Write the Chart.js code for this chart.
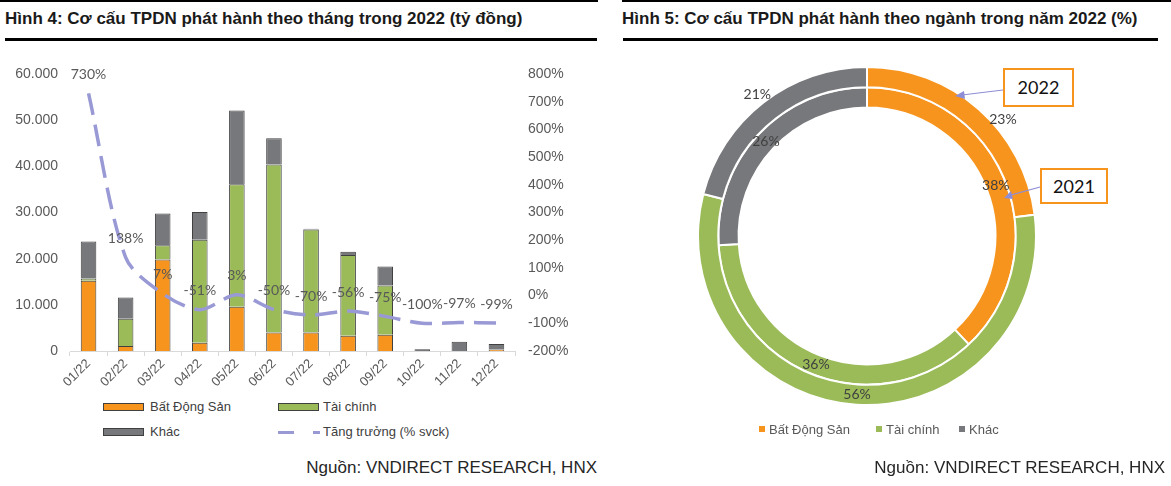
<!DOCTYPE html>
<html>
<head>
<meta charset="utf-8">
<script src="https://cdn.jsdelivr.net/npm/chart.js@4.4.1/dist/chart.umd.min.js"></script>
<style>
  html, body { margin: 0; padding: 0; background: #fff; }
  body { width: 1171px; height: 486px; position: relative; overflow: hidden; font-family: "Liberation Sans", Arial, sans-serif; }
  .rule { position: absolute; background: #000; }
  .title { position: absolute; top: 9px; font-weight: bold; font-size: 17px; color: #1a1a1a; white-space: nowrap; }
  .source { position: absolute; top: 458px; font-size: 17px; color: #262626; white-space: nowrap; }
  .lg { position: absolute; font-size: 13px; color: #404040; white-space: nowrap; line-height: 16px; }
  .sw { position: absolute; width: 39px; height: 6px; border: 1px solid #404040; }
  .dash { position: absolute; height: 3px; background: #9999d6; }
  .lg2 { position: absolute; top: 422px; font-size: 13px; color: #595959; white-space: nowrap; line-height: 16px; }
  .sq { display: inline-block; width: 6px; height: 6px; margin-right: 4px; vertical-align: 2px; }
  .callout { position: absolute; border: 2px solid #f7941d; background: #fff; font-family: Lato, sans-serif; font-size: 18px; color: #111; text-align: center; box-sizing: border-box; }
  canvas { position: absolute; }
</style>
</head>
<body>
<div class="rule" style="left:0;top:0;width:598px;height:2px"></div>
<div class="rule" style="left:622px;top:0;width:549px;height:2px"></div>
<div class="title" style="left:5px">Hình 4: Cơ cấu TPDN phát hành theo tháng trong 2022 (tỷ đồng)</div>
<div class="title" style="left:622px">Hình 5: Cơ cấu TPDN phát hành theo ngành trong năm 2022 (%)</div>
<div class="rule" style="left:5px;top:38px;width:592px;height:3px"></div>
<div class="rule" style="left:623px;top:38px;width:535px;height:3px"></div>

<canvas id="barChart" width="600" height="345" style="left:0;top:50px;width:600px;height:345px"></canvas>

<div class="sw" style="left:103px;top:403px;background:#f7941d"></div>
<div class="lg" style="left:150px;top:399px">Bất Động Sản</div>
<div class="sw" style="left:278px;top:403px;background:#9bbb59"></div>
<div class="lg" style="left:323px;top:399px">Tài chính</div>
<div class="sw" style="left:103px;top:428px;background:#77787b"></div>
<div class="lg" style="left:150px;top:424px">Khác</div>
<div class="dash" style="left:278px;top:431px;width:16px"></div>
<div class="dash" style="left:313px;top:431px;width:7px"></div>
<div class="lg" style="left:323px;top:424px">Tăng trưởng (% svck)</div>

<div class="source" style="right:574px">Nguồn: VNDIRECT RESEARCH, HNX</div>

<canvas id="donutChart" width="344" height="344" style="left:695px;top:64px;width:344px;height:344px"></canvas>

<svg width="1171" height="486" style="position:absolute;left:0;top:0;pointer-events:none">
  <line x1="1003" y1="90" x2="962" y2="95" stroke="#8e8ed6" stroke-width="1.2"/>
  <polygon points="955,96 964,91 965,99" fill="#8e8ed6"/>
  <line x1="1040" y1="187" x2="1011" y2="195" stroke="#8e8ed6" stroke-width="1.2"/>
  <polygon points="1004,198 1011,191 1013,199" fill="#8e8ed6"/>
</svg>
<div class="callout" style="left:1003px;top:68px;width:71px;height:39px;line-height:35px">2022</div>
<div class="callout" style="left:1040px;top:168px;width:68px;height:36px;line-height:32px">2021</div>

<div class="lg2" style="left:759px"><span class="sq" style="background:#f7941d"></span>Bất Động Sản</div>
<div class="lg2" style="left:876px"><span class="sq" style="background:#9bbb59"></span>Tài chính</div>
<div class="lg2" style="left:959px"><span class="sq" style="background:#77787b"></span>Khác</div>

<div class="source" style="right:6px">Nguồn: VNDIRECT RESEARCH, HNX</div>

<script>
// Monthly issuance (tỷ đồng), 2022
const months = ['01/22', '02/22', '03/22', '04/22', '05/22', '06/22', '07/22', '08/22', '09/22', '10/22', '11/22', '12/22'];
const batDongSan = [15200, 1100, 19800, 1800, 9600, 4000, 4000, 3300, 3500, 0, 0, 300];
const taiChinh = [500, 5900, 3100, 22300, 26500, 36400, 22300, 17500, 10700, 0, 0, 0];
const khac = [8000, 4600, 6900, 6000, 16000, 5700, 200, 700, 4100, 400, 2000, 1200];
const tangTruong = [730, 138, 7, -51, 3, -50, -70, -56, -75, -100, -97, -99];

// Sector share (%)
const sectors = ['Bất Động Sản', 'Tài chính', 'Khác'];
const share2022 = [23, 56, 21];
const share2021 = [38, 36, 26];

const ORANGE = '#f7941d';
const GREEN = '#9bbb59';
const GRAY = '#77787b';
const LAVENDER = '#9999d6';

const fmtThousands = v => String(v).replace(/\B(?=(\d{3})+(?!\d))/g, '.');

// labels above the growth line
const lineLabels = {
    id: 'lineLabels',
    afterDatasetsDraw(chart) {
        const ctx = chart.ctx;
        const meta = chart.getDatasetMeta(3);
        ctx.save();
        ctx.font = '14px Lato, sans-serif';
        ctx.fillStyle = '#595959';
        ctx.textAlign = 'center';
        ctx.textBaseline = 'middle';
        meta.data.forEach((pt, i) => {
            ctx.fillText(tangTruong[i] + '%', pt.x, pt.y - 19);
        });
        ctx.restore();
    }
};

new Chart(document.getElementById('barChart'), {
    data: {
        labels: months,
        datasets: [
            { type: 'bar', label: 'Bất Động Sản', data: batDongSan, backgroundColor: ORANGE, borderColor: '#404040', borderWidth: 1, stack: 's', order: 2 },
            { type: 'bar', label: 'Tài chính', data: taiChinh, backgroundColor: GREEN, borderColor: '#404040', borderWidth: 1, stack: 's', order: 2 },
            { type: 'bar', label: 'Khác', data: khac, backgroundColor: GRAY, borderColor: '#404040', borderWidth: 1, stack: 's', order: 2 },
            {
                type: 'line', label: 'Tăng trưởng (% svck)', data: tangTruong, yAxisID: 'y1',
                borderColor: LAVENDER, borderWidth: 3.5, borderDash: [22, 10], borderCapStyle: 'butt',
                pointRadius: 0, tension: 0.3, order: 1
            }
        ]
    },
    options: {
        responsive: false,
        animation: false,
        layout: { padding: { top: 24, bottom: 0, left: 0, right: 0 } },
        datasets: { bar: { barPercentage: 0.42, categoryPercentage: 1 } },
        plugins: { legend: { display: false }, tooltip: { enabled: false } },
        scales: {
            x: {
                stacked: true,
                grid: { display: true, drawOnChartArea: false, drawTicks: true, tickLength: 5, offset: true, color: '#d9d9d9' },
                border: { color: '#d9d9d9', width: 1 },
                ticks: { minRotation: 45, maxRotation: 45, color: '#595959', font: { family: 'Liberation Sans', size: 13 }, padding: 0 },
                afterFit(s) { s.height = 44; }
            },
            y: {
                stacked: true, min: 0, max: 60000,
                grid: { display: false },
                border: { display: false },
                ticks: { stepSize: 10000, color: '#595959', font: { family: 'Liberation Sans', size: 14 }, padding: 4, callback: v => fmtThousands(v) },
                afterFit(s) { s.width = 70; }
            },
            y1: {
                position: 'right', min: -200, max: 800,
                grid: { display: false },
                border: { display: false },
                ticks: { stepSize: 100, color: '#595959', font: { family: 'Liberation Sans', size: 14 }, padding: 5, callback: v => v + '%' },
                afterFit(s) { s.width = 85; }
            }
        }
    },
    plugins: [lineLabels]
});

// percentage labels on the rings
const ringLabels = {
    id: 'ringLabels',
    afterDatasetsDraw(chart) {
        const ctx = chart.ctx;
        ctx.save();
        ctx.font = '14px Lato, sans-serif';
        ctx.fillStyle = '#404040';
        ctx.textAlign = 'center';
        ctx.textBaseline = 'middle';
        chart.data.datasets.forEach((ds, di) => {
            chart.getDatasetMeta(di).data.forEach((arc, i) => {
                const p = arc.tooltipPosition();
                let x = p.x, y = p.y;
                // small outer-ring slices in the upper half: label sits on the outer edge
                if (di === 0 && y < arc.y) {
                    const mid = (arc.startAngle + arc.endAngle) / 2 + (x > arc.x ? 0.14 : 0);
                    const r = arc.outerRadius + 10;
                    x = arc.x + Math.cos(mid) * r;
                    y = arc.y + Math.sin(mid) * r;
                }
                ctx.fillText(ds.data[i] + '%', x, y);
            });
        });
        ctx.restore();
    }
};

new Chart(document.getElementById('donutChart'), {
    type: 'doughnut',
    data: {
        labels: sectors,
        datasets: [
            { label: '2022', data: share2022, backgroundColor: [ORANGE, GREEN, GRAY], borderColor: '#fff', borderWidth: 2 },
            { label: '2021', data: share2021, backgroundColor: [ORANGE, GREEN, GRAY], borderColor: '#fff', borderWidth: 2 }
        ]
    },
    options: {
        responsive: false,
        animation: false,
        cutout: '76%',
        layout: { padding: 2 },
        plugins: { legend: { display: false }, tooltip: { enabled: false } }
    },
    plugins: [ringLabels]
});
</script>
</body>
</html>
